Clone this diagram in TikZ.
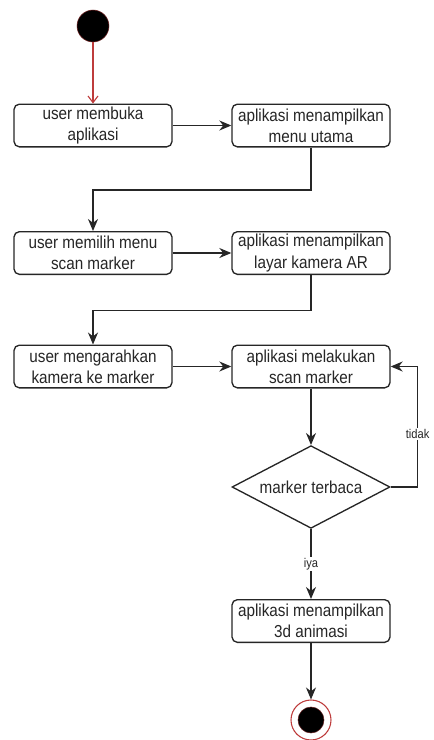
\documentclass[tikz,border=0pt]{standalone}
\usepackage{fontspec}
\setmainfont{Liberation Sans}[FakeStretch=0.88]
\usetikzlibrary{shapes,arrows.meta,positioning,calc}
\definecolor{startred}{RGB}{190,60,60}

\begin{document}
\begin{tikzpicture}[x=0.75pt, y=-0.75pt,
    >={Stealth[length=9pt,width=7.5pt]},
    action/.style={draw=black!85, line width=1pt, rounded corners=4pt, fill=white,
        minimum width=118.5pt, minimum height=32pt, inner sep=1pt, align=center,
        text=black!85, font=\fontsize{13}{16}\selectfont},
    decision/.style={diamond, draw=black!85, line width=1pt, aspect=1.9,
        minimum width=118.5pt, minimum height=62pt, inner sep=0pt,
        text=black!85, font=\fontsize{13}{16}\selectfont},
    flow/.style={->, line width=1pt, black!85},
    guard/.style={fill=white, inner sep=1pt, text=black!85, font=\fontsize{9.5}{11}\selectfont}
]
    \useasboundingbox (0,0) rectangle (434,740);

    % Initial state
    \node[circle, fill=black, draw=startred!60!black, minimum size=24pt] (start) at (93,26) {};

    % User and application actions
    \node[action] (open) at (93,125.5) {user membuka\\aplikasi};
    \node[action] (menu) at (311,125.5) {aplikasi menampilkan\\menu utama};
    \node[action] (choose) at (93,253) {user memilih menu\\scan marker};
    \node[action] (camera) at (311,253) {aplikasi menampilkan\\layar kamera AR};
    \node[action] (aim) at (93,366.5) {user mengarahkan\\kamera ke marker};
    \node[action] (scan) at (311,366.5) {aplikasi melakukan\\scan marker};

    % Decision
    \node[decision] (check) at (311,487) {marker terbaca};

    % Result
    \node[action] (anim) at (311,621) {aplikasi menampilkan\\3d animasi};

    % Final state
    \node[circle, draw=startred, fill=white, line width=0.8pt, minimum size=30pt] (stop) at (311,720) {};
    \node[circle, fill=black, draw=startred!50!black, minimum size=19.5pt] (stopdot) at (stop) {};

    % Flows
    \draw[-{Straight Barb[length=5pt,width=7.5pt]}, line width=0.8pt, startred] (start) -- (open);
    \draw[flow] (open) -- (menu);
    \draw[flow] (menu.south) -- ++(0,42.5) -| (choose.north);
    \draw[flow] (choose) -- (camera);
    \draw[flow] (camera.south) -- ++(0,35.5) -| (aim.north);
    \draw[flow] (aim) -- (scan);
    \draw[flow] (scan) -- (check);
    \draw[flow] (check.east) -- ++(27,0) |- node[guard, pos=0.22] {tidak} (scan.east);
    \draw[flow] (check.south) -- node[guard] {iya} (anim.north);
    \draw[flow] (anim.south) -- (stop.north);
\end{tikzpicture}
\end{document}
